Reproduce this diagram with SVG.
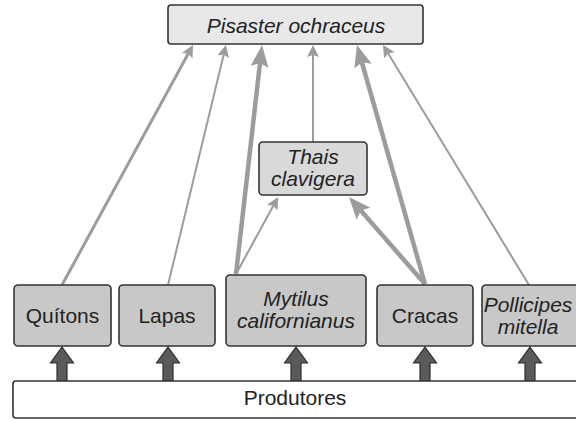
<svg xmlns="http://www.w3.org/2000/svg" xmlns:xlink="http://www.w3.org/1999/xlink" width="576" height="421" viewBox="0 0 576 421">
<style>
.box{stroke:#333;stroke-width:1.6}
.sp{fill:#c8c8c8}
.txt{font-family:"Liberation Sans",Arial,sans-serif;font-size:21px;fill:#222;text-anchor:middle}
.it{font-style:italic}
.ln{stroke:#9c9c9c;fill:none}
.thin{stroke-width:2}
.mid{stroke-width:3}
.thick{stroke-width:4.5}
.blk{fill:#5a5a5a;stroke:#2e2e2e;stroke-width:1.2}
</style>
<defs>
<marker id="aThin" markerUnits="userSpaceOnUse" viewBox="0 0 12 12" markerWidth="12" markerHeight="12" refX="2" refY="6" orient="auto">
<path d="M0,0 L12,6 L0,12 L2,6 Z" fill="#9c9c9c"/>
</marker>
<marker id="aThick" markerUnits="userSpaceOnUse" viewBox="0 0 22 18" markerWidth="22" markerHeight="18" refX="4" refY="9" orient="auto">
<path d="M0,0 L22,9 L0,18 L4,9 Z" fill="#9c9c9c"/>
</marker>
<path id="blkArrow" d="M0,347 L11.5,363 L5,363 L5,381 L-5,381 L-5,363 L-11.5,363 Z"/>
</defs>
<rect width="576" height="421" fill="#fff"/>

<g id="connectors">
<line class="ln mid" x1="62" y1="285" x2="188.2" y2="53.8" marker-end="url(#aThin)"/>
<line class="ln thin" x1="168" y1="285" x2="223.65" y2="54.7" marker-end="url(#aThin)"/>
<line class="ln thick" x1="236" y1="274" x2="260" y2="62.9" marker-end="url(#aThick)"/>
<line class="ln thin" x1="313" y1="142" x2="313" y2="55" marker-end="url(#aThin)"/>
<line class="ln thick" x1="425" y1="284" x2="361.9" y2="62.3" marker-end="url(#aThick)"/>
<line class="ln thin" x1="529" y1="285" x2="388.2" y2="53.5" marker-end="url(#aThin)"/>
<line class="ln thin" x1="236" y1="274" x2="273.3" y2="205.8" marker-end="url(#aThin)"/>
<line class="ln thick" x1="425" y1="284" x2="360.8" y2="210.6" marker-end="url(#aThick)"/>
<use xlink:href="#blkArrow" href="#blkArrow" class="blk" x="62"/>
<use xlink:href="#blkArrow" href="#blkArrow" class="blk" x="168"/>
<use xlink:href="#blkArrow" href="#blkArrow" class="blk" x="296"/>
<use xlink:href="#blkArrow" href="#blkArrow" class="blk" x="425"/>
<use xlink:href="#blkArrow" href="#blkArrow" class="blk" x="530"/>
</g>

<g id="pisaster">
<rect class="box" x="168" y="5" width="255" height="39" rx="3" fill="#e8e8e8"/>
<text class="txt it" x="296" y="33">Pisaster ochraceus</text>
</g>
<g id="thais">
<rect class="box" x="259" y="142" width="108" height="53" rx="4" fill="#d9d9d9"/>
<text class="txt it" x="313" y="164">Thais</text>
<text class="txt it" x="313" y="186">clavigera</text>
</g>
<g id="quitons">
<rect class="box sp" x="14" y="285" width="97" height="61" rx="4"/>
<text class="txt" x="62.5" y="323">Quítons</text>
</g>
<g id="lapas">
<rect class="box sp" x="119" y="285" width="96" height="61" rx="4"/>
<text class="txt" x="167" y="323">Lapas</text>
</g>
<g id="mytilus">
<rect class="box sp" x="226" y="275" width="140" height="71" rx="4"/>
<text class="txt it" x="296" y="306">Mytilus</text>
<text class="txt it" x="296" y="328">californianus</text>
</g>
<g id="cracas">
<rect class="box sp" x="377" y="285" width="96" height="61" rx="4"/>
<text class="txt" x="425" y="323">Cracas</text>
</g>
<g id="pollicipes">
<rect class="box sp" x="482" y="285" width="100" height="61" rx="4"/>
<text class="txt it" x="528" y="312">Pollicipes</text>
<text class="txt it" x="528" y="334">mitella</text>
</g>
<g id="produtores">
<rect class="box" x="13" y="381" width="570" height="37" rx="3" fill="#fff"/>
<text class="txt" x="295" y="405">Produtores</text>
</g>
</svg>
